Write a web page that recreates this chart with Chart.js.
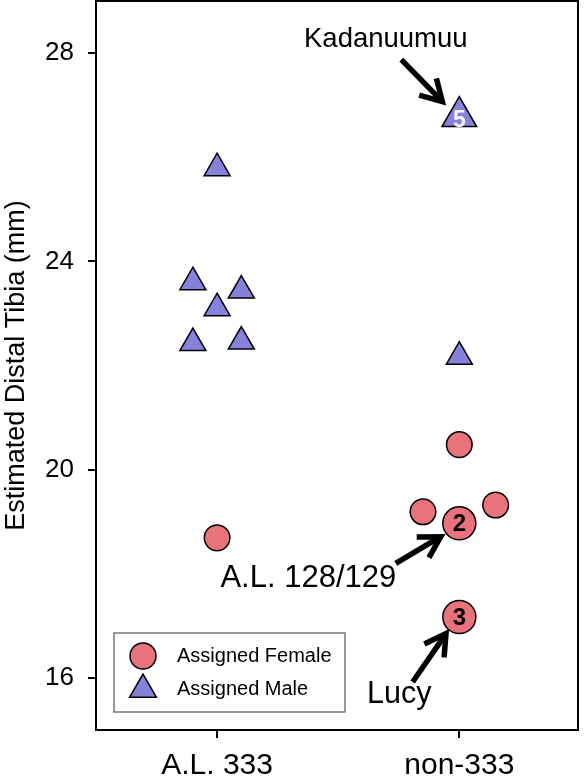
<!DOCTYPE html>
<html>
<head>
<meta charset="utf-8">
<script src="https://cdn.jsdelivr.net/npm/chart.js@4"></script>
<style>
html, body { margin: 0; padding: 0; background: #fff; }
#wrap { width: 586px; height: 778px; }
</style>
</head>
<body>
<div id="wrap"><canvas id="chart"></canvas></div>
<script>
const categories = ['A.L. 333', 'non-333'];
const yTicks = [16, 20, 24, 28];

// x = group index (1, 2) plus the sideways jitter used in the figure
const femaleX = [1, 2, 1.85, 2.15, 2, 2];
const femaleY = [18.69, 20.48, 19.19, 19.32, 18.97, 17.17];
const femaleTags = ['', '', '', '', '2', '3'];

const maleX = [1, 0.9, 1.1, 1, 0.9, 1.1, 2, 2];
const maleY = [25.79, 23.60, 23.44, 23.10, 22.43, 22.46, 26.78, 22.17];
const maleTags = ['', '', '', '', '', '', '5', ''];

const noteNames = ['Kadanuumuu', 'A.L. 128/129', 'Lucy'];

const FONT = "'Liberation Sans', Arial, sans-serif";
const femaleColor = '#e9737c';
const maleColor = '#8682dc';

// which point each note points at, and where its text / arrow sit (px from that point)
const notes = [
    { ds: 1, i: 6, size: 27.5, tx: -73.5, ty: -70, tail: [-58, -57], tip: [-17, -15] },
    { ds: 0, i: 4, size: 31, tx: -151, ty: 64, tail: [-63.6, 40], tip: [-18.6, 13.4] },
    { ds: 0, i: 5, size: 30.5, tx: -60, ty: 86, tail: [-46.7, 65], tip: [-13.3, 16.6] }
];

function toPoints(xs, ys) {
    return xs.map((x, i) => ({ x: x, y: ys[i] }));
}

function noPad(scale) {
    scale.paddingTop = 0;
    scale.paddingBottom = 0;
    scale.paddingLeft = 0;
    scale.paddingRight = 0;
}

function arrow(ctx, x1, y1, x2, y2) {
    const a = Math.atan2(y2 - y1, x2 - x1);
    const len = 24, spread = Math.PI / 6;
    ctx.beginPath();
    ctx.moveTo(x1, y1);
    ctx.lineTo(x2 - Math.cos(a) * 3, y2 - Math.sin(a) * 3);
    ctx.stroke();
    ctx.beginPath();
    ctx.moveTo(x2 - len * Math.cos(a - spread), y2 - len * Math.sin(a - spread));
    ctx.lineTo(x2, y2);
    ctx.lineTo(x2 - len * Math.cos(a + spread), y2 - len * Math.sin(a + spread));
    ctx.stroke();
}

const framePlugin = {
    id: 'frame',
    beforeDatasetsDraw(chart) {
        const { ctx, chartArea: ca } = chart;
        ctx.save();
        ctx.strokeStyle = '#000';
        ctx.lineWidth = 2;
        ctx.strokeRect(ca.left, ca.top, ca.right - ca.left, ca.bottom - ca.top);
        ctx.restore();
    }
};

const extrasPlugin = {
    id: 'extras',
    afterDatasetsDraw(chart) {
        const ctx = chart.ctx;
        const ca = chart.chartArea;
        ctx.save();

        // numbers inside the marked specimens
        [femaleTags, maleTags].forEach((tags, ds) => {
            const meta = chart.getDatasetMeta(ds);
            tags.forEach((t, i) => {
                if (!t) return;
                const p = meta.data[i];
                ctx.textAlign = 'center';
                ctx.textBaseline = 'middle';
                if (ds === 1) {
                    ctx.fillStyle = '#f4f4ff';
                    ctx.font = 'bold 23px ' + FONT;
                    ctx.fillText(t, p.x, p.y + 4);
                } else {
                    ctx.fillStyle = '#000';
                    ctx.font = 'bold 24px ' + FONT;
                    ctx.fillText(t, p.x, p.y + 1);
                }
            });
        });

        // named specimens with arrows
        notes.forEach((n, k) => {
            const p = chart.getDatasetMeta(n.ds).data[n.i];
            ctx.fillStyle = '#000';
            ctx.font = n.size + 'px ' + FONT;
            ctx.textAlign = 'center';
            ctx.textBaseline = 'alphabetic';
            ctx.fillText(noteNames[k], p.x + n.tx, p.y + n.ty);
            ctx.strokeStyle = '#000';
            ctx.lineWidth = 5.5;
            ctx.lineJoin = 'miter';
            ctx.lineCap = 'butt';
            arrow(ctx, p.x + n.tail[0], p.y + n.tail[1], p.x + n.tip[0], p.y + n.tip[1]);
        });

        // legend box
        const x0 = ca.left + 18, y0 = ca.bottom - 97;
        ctx.strokeStyle = '#555';
        ctx.lineWidth = 1.2;
        ctx.strokeRect(x0, y0, 231, 79);
        const items = [
            { label: chart.data.datasets[0].label, style: 'circle', r: 13, color: femaleColor, dy: 23 },
            { label: chart.data.datasets[1].label, style: 'triangle', r: 15.5, color: maleColor, dy: 56.5 }
        ];
        items.forEach(it => {
            ctx.fillStyle = it.color;
            ctx.strokeStyle = '#000';
            ctx.lineWidth = 1.5;
            Chart.helpers.drawPoint(ctx, { pointStyle: it.style, radius: it.r, rotation: 0, borderWidth: 1.5 }, x0 + 29, y0 + it.dy);
            ctx.fillStyle = '#000';
            ctx.font = '20px ' + FONT;
            ctx.textAlign = 'left';
            ctx.textBaseline = 'middle';
            ctx.fillText(it.label, x0 + 63, y0 + it.dy);
        });

        ctx.restore();
    }
};

new Chart(document.getElementById('chart'), {
    type: 'scatter',
    data: {
        datasets: [
            {
                label: 'Assigned Female',
                data: toPoints(femaleX, femaleY),
                pointStyle: 'circle',
                pointRadius: femaleTags.map(t => t ? 16.5 : 12.8),
                backgroundColor: femaleColor,
                borderColor: '#000',
                borderWidth: 1.5
            },
            {
                label: 'Assigned Male',
                data: toPoints(maleX, maleY),
                pointStyle: 'triangle',
                pointRadius: maleTags.map(t => t ? 20 : 15),
                backgroundColor: maleColor,
                borderColor: '#000',
                borderWidth: 1.5
            }
        ]
    },
    options: {
        responsive: true,
        maintainAspectRatio: false,
        animation: false,
        layout: { autoPadding: false, padding: { top: 1, right: 8, left: 0, bottom: 0 } },
        plugins: {
            legend: { display: false },
            tooltip: { enabled: false }
        },
        scales: {
            x: {
                type: 'linear',
                min: 0.5,
                max: 2.49,
                afterBuildTicks: scale => { scale.ticks = categories.map((c, i) => ({ value: i + 1 })); },
                afterFit: scale => { scale.height = 48; noPad(scale); },
                ticks: {
                    callback: v => categories[v - 1],
                    color: '#000',
                    font: { family: FONT, size: 30 },
                    padding: 10,
                    maxRotation: 0,
                    autoSkip: false
                },
                grid: { drawOnChartArea: false, drawTicks: true, tickLength: 8, color: '#000', lineWidth: 2 },
                border: { display: false }
            },
            y: {
                min: 15,
                max: 29,
                afterBuildTicks: scale => { scale.ticks = yTicks.map(v => ({ value: v })); },
                afterFit: scale => { scale.width = 96; noPad(scale); },
                ticks: {
                    color: '#000',
                    font: { family: FONT, size: 26 },
                    padding: 14
                },
                grid: { drawOnChartArea: false, drawTicks: true, tickLength: 8, color: '#000', lineWidth: 2 },
                border: { display: false },
                title: {
                    display: true,
                    text: 'Estimated Distal Tibia (mm)',
                    color: '#000',
                    font: { family: FONT, size: 27 },
                    padding: { top: 0, bottom: 0 }
                }
            }
        }
    },
    plugins: [framePlugin, extrasPlugin]
});
</script>
</body>
</html>
